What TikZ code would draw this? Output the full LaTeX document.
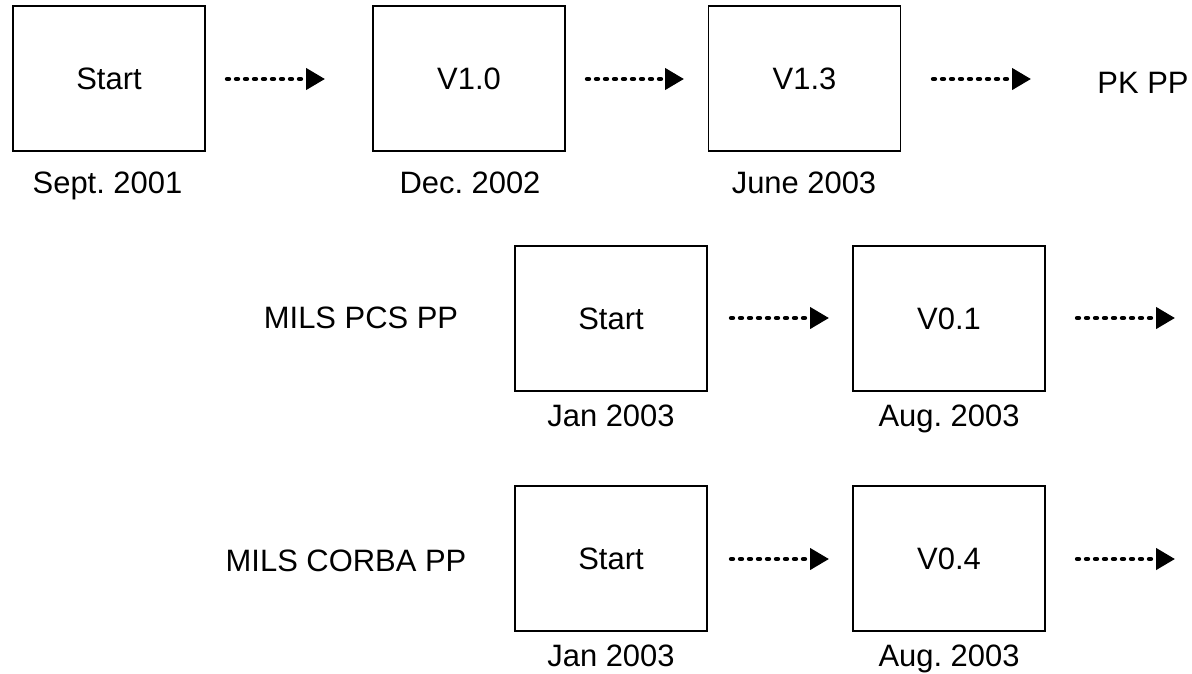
\documentclass[tikz,border=0pt]{standalone}
\usepackage{fontspec}
\setmainfont{Liberation Sans}
\usepackage{tikz}
\usetikzlibrary{arrows.meta,positioning}

\tikzset{
  relbox/.style={draw, line width=1.1pt, minimum width=3.84cm, minimum height=2.9cm, inner sep=0pt, font=\fontsize{17.6}{21}\selectfont\frenchspacing},
  datetxt/.style={anchor=base, inner sep=0pt, font=\fontsize{17.6}{21}\selectfont\frenchspacing},
  nexttip/.style={line width=0.085cm, line cap=round, dash pattern=on 0.04cm off 0.14cm, -{Triangle[length=0.38cm,width=0.42cm]}}
}

\begin{document}
\begin{tikzpicture}[x=0.02cm,y=-0.02cm]
\useasboundingbox (0,0) rectangle (1192,673);
% PK PP line
\node[relbox] (pkstart) at (109,78.5) {Start};
\node[relbox] (pkvten) at (469,78.5) {V1.0};
\node[relbox] (pkvthirteen) at (804.5,78.5) {V1.3};
\node[datetxt] (pkname) at (1143,93) {PK PP};
\node[datetxt] (pkdatea) at (107.5,193) {Sept. 2001};
\node[datetxt] (pkdateb) at (470,193) {Dec. 2002};
\node[datetxt] (pkdatec) at (804,193) {June 2003};
\coordinate (pka) at (227,79);
\coordinate (pkb) at (325,79);
\coordinate (pkc) at (587,79);
\coordinate (pkd) at (684,79);
\coordinate (pke) at (933,79);
\coordinate (pkf) at (1031,79);
\draw[nexttip] (pka) -- (pkb);
\draw[nexttip] (pkc) -- (pkd);
\draw[nexttip] (pke) -- (pkf);
% MILS PCS PP line
\node[datetxt] (pcsname) at (361,328) {MILS PCS PP};
\node[relbox] (pcsstart) at (611,318.5) {Start};
\node[relbox] (pcsvone) at (949,318.5) {V0.1};
\node[datetxt] (pcsdatea) at (611,426) {Jan 2003};
\node[datetxt] (pcsdateb) at (949,426) {Aug. 2003};
\coordinate (pcsa) at (731,318);
\coordinate (pcsb) at (829,318);
\coordinate (pcsc) at (1077,318);
\coordinate (pcsd) at (1175,318);
\draw[nexttip] (pcsa) -- (pcsb);
\draw[nexttip] (pcsc) -- (pcsd);
% MILS CORBA PP line
\node[datetxt] (corbaname) at (346,571) {MILS CORBA PP};
\node[relbox] (corbastart) at (611,558.5) {Start};
\node[relbox] (corbavfour) at (949,558.5) {V0.4};
\node[datetxt] (corbadatea) at (611,666) {Jan 2003};
\node[datetxt] (corbadateb) at (949,666) {Aug. 2003};
\coordinate (corbaa) at (731,559);
\coordinate (corbab) at (829,559);
\coordinate (corbac) at (1077,559);
\coordinate (corbad) at (1175,559);
\draw[nexttip] (corbaa) -- (corbab);
\draw[nexttip] (corbac) -- (corbad);
\end{tikzpicture}
\end{document}
